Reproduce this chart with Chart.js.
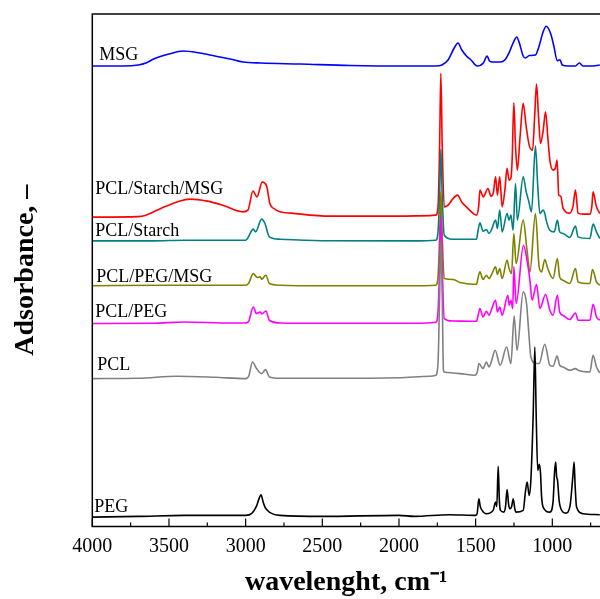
<!DOCTYPE html>
<html>
<head>
<meta charset="utf-8">
<script src="https://cdn.jsdelivr.net/npm/chart.js@4"></script>
<style>
  html, body { margin: 0; padding: 0; background: #fff; }
</style>
</head>
<body>
<canvas id="myChart" width="600" height="599"></canvas>
<script>
// FTIR spectra, [wavenumber, absorbance (offset, arbitrary units)]
const peg = [[4000,9.3],[3700,10],[3400,11],[3000,11],[2960,13],[2930,20],[2912,28],[2900,31.7],[2885,24],[2874,19.3],[2845,14.3],[2776,11],[2500,10],[2000,11],[1900,10],[1670,11.7],[1500,11],[1490,13],[1479,27.7],[1470,20],[1462,17],[1430,12.7],[1386,16],[1370,24.3],[1362,20],[1353,60],[1345,25],[1338,16],[1316,14.3],[1305,20],[1295,36.7],[1285,22],[1277,17.7],[1265,20],[1255,27.7],[1245,18],[1238,14.3],[1190,16],[1175,35],[1164,44.3],[1151,31],[1140,46],[1125,110],[1114,179.3],[1105,110],[1095,56],[1085,62],[1077,53.3],[1070,30],[1060,19.3],[1016,14.3],[995,25],[985,55],[978,64.3],[972,50],[966,46],[955,25],[944,17.7],[912,13.3],[885,20],[866,50],[858,64.3],[851,40],[842,19.3],[799,12.7],[690,11.7]];

const pcl = [[4000,147.7],[3700,148],[3450,150],[3200,149],[3000,147.7],[2980,150],[2955,164.3],[2930,158],[2896,152.7],[2870,156.7],[2845,149.3],[2776,148],[2500,148],[2000,148.5],[1800,150],[1760,151],[1745,165],[1735,230],[1727,286],[1718,230],[1710,156],[1700,154],[1602,152.7],[1505,151],[1490,154],[1478,162.7],[1452,157.7],[1430,164.3],[1413,159.3],[1398,164.3],[1373,176],[1340,161],[1298,179.3],[1270,162.7],[1249,210.3],[1230,176],[1190,234.3],[1168,222.7],[1153,192.7],[1140,169.3],[1110,163],[1086,162.7],[1049,182],[1016,161],[995,160],[969,170.3],[952,161],[930,159.3],[886,156],[849,157.7],[832,156],[755,154.3],[734,171],[712,159.3],[690,153.3]];

const pclPeg = [[4000,202.7],[3600,203],[3400,204.3],[3100,203.3],[3000,203.3],[2980,205],[2950,219.3],[2930,212.7],[2905,214.3],[2895,212.3],[2868,215.3],[2845,206],[2776,203.3],[2500,203],[1900,203],[1760,204],[1745,215],[1735,260],[1727,311],[1718,260],[1705,207.7],[1650,205.3],[1520,205],[1494,205],[1485,210],[1472,217.7],[1452,209.3],[1430,215],[1413,211],[1398,216],[1370,226],[1358,214.3],[1343,219.3],[1327,211],[1290,231],[1282,221],[1270,226],[1258,217.7],[1251,259.3],[1236,222.7],[1188,281],[1165,266],[1146,246],[1132,226],[1103,241.7],[1081,217.7],[1044,231.7],[1016,216],[995,211],[967,231],[952,214.3],[930,211],[886,206.7],[849,213.3],[832,206],[755,206],[734,222],[712,209.3],[690,206]];

const pclPegMsg = [[4000,240.5],[3500,241],[3000,241],[2980,243],[2950,252.7],[2925,248.7],[2905,249.3],[2895,247],[2868,251],[2845,242.7],[2776,241],[2500,240.5],[1900,240.5],[1760,241],[1745,250],[1735,290],[1727,334.3],[1718,290],[1705,247.7],[1646,246.7],[1600,243.7],[1515,242],[1494,242],[1485,248],[1472,254.3],[1452,246.7],[1430,251],[1413,247.7],[1398,251],[1370,259.3],[1358,251.7],[1343,257.7],[1327,247.7],[1295,266],[1282,257.7],[1266,252.7],[1251,292.7],[1236,262.7],[1190,306],[1165,276],[1146,254.3],[1110,312.7],[1086,259.3],[1070,254.3],[1049,266.7],[1030,257.7],[995,247.7],[967,267.7],[952,249.3],[930,246],[886,242.7],[849,257.7],[832,244.3],[755,242.7],[738,256.7],[712,244.3],[690,241]];

const pclStarch = [[4000,285.3],[3600,285.3],[3400,286],[3000,286],[2987,288],[2950,297],[2935,294.3],[2896,307],[2874,302.7],[2845,289.3],[2776,287],[2500,285.5],[1900,285.3],[1760,286],[1745,295],[1735,330],[1727,376.7],[1718,330],[1705,291],[1650,287],[1560,287],[1494,287],[1485,295],[1472,303.3],[1452,295],[1430,296.7],[1413,292.7],[1398,296],[1370,306],[1358,297.7],[1343,316],[1327,294.3],[1295,312.7],[1282,306],[1270,311],[1256,296],[1240,342.7],[1228,306],[1190,349.3],[1170,334.3],[1153,324.3],[1136,314.3],[1110,380],[1095,340],[1081,312.7],[1060,316],[1048,312],[1040,306],[1017,296],[987,294.3],[967,306],[952,294.3],[930,292.7],[886,288.7],[849,300],[832,289.3],[755,287.7],[734,302],[712,294.3],[690,287.7]];

const pclStarchMsg = [[4000,309],[3700,309.5],[3650,311],[3550,318],[3450,324],[3362,327],[3250,325],[3150,321],[3017,314.3],[2985,316],[2952,335],[2926,329.3],[2892,344],[2863,340],[2842,322.7],[2810,317],[2776,314.3],[2700,313],[2450,310],[2000,310],[1800,310.5],[1760,311],[1745,320],[1735,380],[1727,452.7],[1718,380],[1705,319.3],[1680,321],[1650,327],[1618,331],[1590,324],[1560,319.3],[1510,312],[1494,311],[1480,320],[1472,336],[1450,329.3],[1420,337.7],[1400,330],[1385,333],[1370,349.3],[1358,331],[1343,349.3],[1327,319.3],[1310,335],[1295,357.7],[1282,346],[1270,348],[1262,366],[1251,423.3],[1240,380],[1228,356],[1210,390],[1190,422.7],[1170,399.3],[1151,381],[1129,376],[1115,410],[1103,442],[1090,410],[1077,382.7],[1060,395],[1044,414.3],[1030,390],[1016,366],[995,356],[980,358],[969,366],[958,331],[945,330],[930,318],[886,313],[865,320],[849,336],[832,313],[800,312],[755,312],[742,320],[734,334.3],[712,319.3],[690,312.7]];

const msg = [[4000,460],[3800,460],[3700,461],[3650,463],[3600,467],[3500,472],[3408,475],[3300,473],[3200,470],[3100,467],[3017,464],[2900,463],[2645,462],[2320,460.5],[1900,460],[1760,460],[1720,461],[1680,466],[1640,478],[1615,483],[1590,476],[1560,470],[1530,466],[1490,460],[1450,463],[1425,470],[1410,465],[1390,464],[1340,464],[1310,466],[1280,474],[1250,485],[1232,489],[1215,483],[1190,470],[1175,468],[1150,470.5],[1110,471],[1090,478],[1060,494],[1040,499.7],[1010,492],[990,480],[968,465.3],[950,466.3],[935,461],[900,460],[850,460],[823,463],[800,460],[750,460],[690,461]];

const seriesNames = ['PEG', 'PCL', 'PCL/PEG', 'PCL/PEG/MSG', 'PCL/Starch', 'PCL/Starch/MSG', 'MSG'];
const seriesData = [peg, pcl, pclPeg, pclPegMsg, pclStarch, pclStarchMsg, msg];
const seriesColors = ['#000000', '#808080', '#ff00ff', '#808000', '#008080', '#ff0000', '#0000ff'];
const tickLabels = [4000, 3500, 3000, 2500, 2000, 1500, 1000];
const minorTicks = [3750, 3250, 2750, 2250, 1750, 1250, 750];

// label anchor (px from chart area left / top)
const labelPos = [[2, 498], [5, 356], [3, 303], [4, 268], [3, 222], [3, 180], [7, 46]];

const frameAndLabels = {
  id: 'frameAndLabels',
  afterDatasetsDraw(chart) {
    const { ctx, chartArea: a, scales: { x } } = chart;
    ctx.save();
    ctx.strokeStyle = '#000';
    ctx.lineWidth = 1.5;
    ctx.beginPath();
    ctx.moveTo(a.right + 2, a.top);
    ctx.lineTo(a.left, a.top);
    ctx.lineTo(a.left, a.bottom);
    ctx.lineTo(a.right + 2, a.bottom);
    ctx.stroke();

    // inward ticks
    ctx.lineWidth = 1.2;
    tickLabels.forEach(v => {
      const px = x.getPixelForValue(v);
      ctx.beginPath(); ctx.moveTo(px, a.bottom); ctx.lineTo(px, a.bottom - 8); ctx.stroke();
    });
    minorTicks.forEach(v => {
      const px = x.getPixelForValue(v);
      ctx.beginPath(); ctx.moveTo(px, a.bottom); ctx.lineTo(px, a.bottom - 4); ctx.stroke();
    });

    ctx.font = '18px "Liberation Serif"';
    ctx.fillStyle = '#000';
    ctx.textBaseline = 'alphabetic';
    seriesNames.forEach((name, i) => {
      ctx.fillText(name, a.left + labelPos[i][0], a.top + labelPos[i][1]);
    });
    ctx.restore();
  }
};

const ctx = document.getElementById('myChart').getContext('2d');
const myChart = new Chart(ctx, {
  type: 'line',
  data: {
    datasets: seriesData.map((d, i) => ({
      label: seriesNames[i],
      data: d.map(p => ({ x: p[0], y: p[1] })),
      borderColor: seriesColors[i],
      borderWidth: 1.6,
      pointRadius: 0,
      cubicInterpolationMode: 'monotone',
      fill: false
    }))
  },
  options: {
    responsive: false,
    animation: false,
    layout: { padding: { top: 14, right: 0, left: 0, bottom: 0 } },
    plugins: { legend: { display: false }, tooltip: { enabled: false } },
    scales: {
      x: {
        type: 'linear',
        reverse: true,
        min: 689,
        max: 4000,
        grid: { display: false, drawTicks: false },
        border: { display: false },
        afterBuildTicks: s => { s.ticks = tickLabels.map(v => ({ value: v })); },
        ticks: {
          padding: 8,
          color: '#000',
          font: { family: '"Liberation Serif"', size: 20 },
          maxRotation: 0,
          callback: v => String(v)
        },
        title: {
          display: true,
          text: 'wavelenght, cm\u207B\u00B9',
          color: '#000',
          font: { family: '"Liberation Serif"', size: 28, weight: 'bold' },
          padding: { top: 0, bottom: -1 }
        }
      },
      y: {
        min: 0,
        max: 512,
        grid: { display: false, drawTicks: false },
        border: { display: false },
        ticks: { display: false },
        title: {
          display: true,
          text: 'Adsorbance, \u2013',
          color: '#000',
          font: { family: '"Liberation Serif"', size: 28, weight: 'bold' },
          padding: { top: 9, bottom: 49.7 }
        }
      }
    }
  },
  plugins: [frameAndLabels]
});
</script>
</body>
</html>
